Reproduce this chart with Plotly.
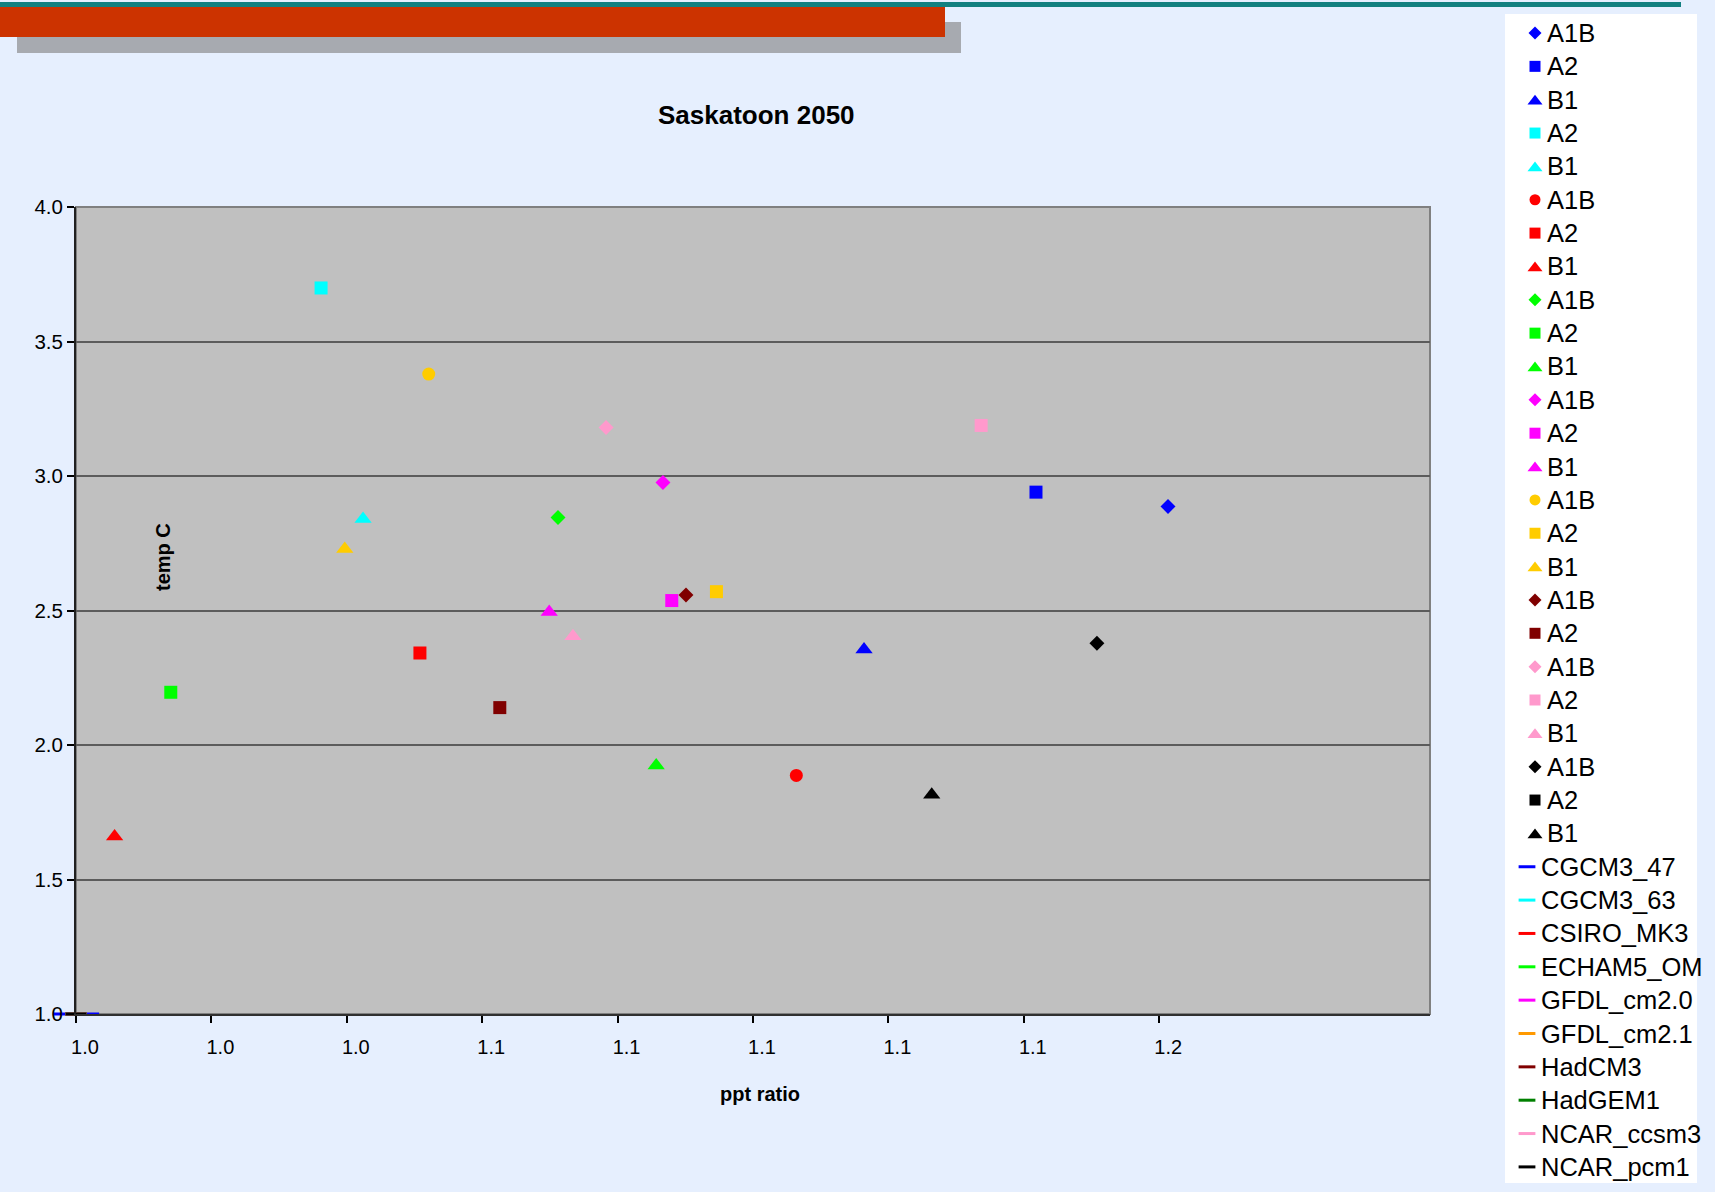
import plotly.graph_objects as go

W, H = 1715, 1192

# ---- data -------------------------------------------------------------
models = ["CGCM3_47", "CGCM3_63", "CSIRO_MK3", "ECHAM5_OM", "GFDL_cm2.0",
          "GFDL_cm2.1", "HadCM3", "HadGEM1", "NCAR_ccsm3", "NCAR_pcm1"]

series_model = ["CGCM3_47", "CGCM3_47", "CGCM3_47",
                "CGCM3_63", "CGCM3_63",
                "CSIRO_MK3", "CSIRO_MK3", "CSIRO_MK3",
                "ECHAM5_OM", "ECHAM5_OM", "ECHAM5_OM",
                "GFDL_cm2.0", "GFDL_cm2.0", "GFDL_cm2.0",
                "GFDL_cm2.1", "GFDL_cm2.1", "GFDL_cm2.1",
                "HadCM3", "HadCM3",
                "NCAR_ccsm3", "NCAR_ccsm3", "NCAR_ccsm3",
                "NCAR_pcm1", "NCAR_pcm1", "NCAR_pcm1"]
series_scenario = ["A1B", "A2", "B1",
                   "A2", "B1",
                   "A1B", "A2", "B1",
                   "A1B", "A2", "B1",
                   "A1B", "A2", "B1",
                   "A1B", "A2", "B1",
                   "A1B", "A2",
                   "A1B", "A2", "B1",
                   "A1B", "A2", "B1"]
ppt_ratio = [1.1613, 1.1418, 1.1164,
             1.0362, 1.0424,
             1.1064, 1.0508, 1.0057,
             1.0712, 1.0140, 1.0857,
             1.0867, 1.0880, 1.0699,
             1.0521, 1.0946, 1.0397,
             1.0901, 1.0626,
             1.0783, 1.1337, 1.0734,
             1.1508, None, 1.1264]
temp_c = [2.887, 2.940, 2.355,
          3.699, 2.840,
          1.887, 2.342, 1.660,
          2.846, 2.196, 1.924,
          2.976, 2.537, 2.494,
          3.379, 2.570, 2.729,
          2.558, 2.139,
          3.180, 3.188, 2.404,
          2.378, None, 1.815]

# model-only series (dash markers sitting on the axis corner)
model_ppt = [1.0] * len(models)
model_temp = [1.0] * len(models)

x_tick_vals = [1.00, 1.02, 1.04, 1.06, 1.08, 1.10, 1.12, 1.14, 1.16]
x_tick_text = ["1.0", "1.0", "1.0", "1.1", "1.1", "1.1", "1.1", "1.1", "1.2"]
y_tick_vals = [1.0, 1.5, 2.0, 2.5, 3.0, 3.5, 4.0]
y_tick_text = ["1.0", "1.5", "2.0", "2.5", "3.0", "3.5", "4.0"]

# ---- styles -----------------------------------------------------------
marker_color = {
    "CGCM3_47": "#0000FF", "CGCM3_63": "#00FFFF", "CSIRO_MK3": "#FF0000",
    "ECHAM5_OM": "#00FF00", "GFDL_cm2.0": "#FF00FF", "GFDL_cm2.1": "#FFCC00",
    "HadCM3": "#800000", "HadGEM1": "#008000", "NCAR_ccsm3": "#FF99CC",
    "NCAR_pcm1": "#000000",
}
line_color = dict(marker_color)
line_color["GFDL_cm2.1"] = "#FF9900"

series_symbol = ["diamond", "square", "triangle-up",
                 "square", "triangle-up",
                 "circle", "square", "triangle-up",
                 "diamond", "square", "triangle-up",
                 "diamond", "square", "triangle-up",
                 "circle", "square", "triangle-up",
                 "diamond", "square",
                 "diamond", "square", "triangle-up",
                 "diamond", "square", "triangle-up"]
plot_size = {"diamond": 11.5, "square": 13, "triangle-up": 15, "circle": 13}
legend_size = {"diamond": 10, "square": 11, "triangle-up": 13, "circle": 11}

FONT = "Liberation Sans, Arial, sans-serif"

# plot area in pixels
PL, PR, PT, PB = 76, 1430, 207, 1014
# legend box in pixels
LL, LR, LT, LB = 1505, 1697, 14, 1183


def fx(px):
    return px / W


def fy(py):
    return 1 - py / H


fig = go.Figure()

# scenario points
for i in range(len(series_model)):
    sym = series_symbol[i]
    fig.add_trace(go.Scatter(
        x=[ppt_ratio[i]], y=[temp_c[i]], mode="markers",
        name=series_scenario[i],
        marker=dict(symbol=sym, size=plot_size[sym], opacity=1,
                    color=marker_color[series_model[i]], line=dict(width=0)),
        showlegend=False, cliponaxis=False, xaxis="x", yaxis="y"))

# model series drawn as dashes
for j, m in enumerate(models):
    fig.add_trace(go.Scatter(
        x=[model_ppt[j]], y=[model_temp[j]], mode="markers", name=m,
        marker=dict(symbol="line-ew", size=33 if j == 0 else 15, opacity=1,
                    line=dict(color=line_color[m], width=3)),
        showlegend=False, cliponaxis=False, xaxis="x", yaxis="y"))

# ---- hand-built legend on its own pixel-scaled axes ------------------
ROW0, ROW_STEP = 33, 33.35
n_ser = len(series_model)
leg_y_ser = [ROW0 + ROW_STEP * i for i in range(n_ser)]
leg_y_mod = [ROW0 + ROW_STEP * (n_ser + j) for j in range(len(models))]
leg_sym_y = [y + (1.5 if s == "triangle-up" else 0)
             for y, s in zip(leg_y_ser, series_symbol)]

fig.add_trace(go.Scatter(
    x=[1535] * n_ser, y=leg_sym_y, mode="markers",
    marker=dict(symbol=series_symbol, opacity=1,
                size=[legend_size[s] for s in series_symbol],
                color=[marker_color[m] for m in series_model],
                line=dict(width=0)),
    showlegend=False, hoverinfo="skip", xaxis="x2", yaxis="y2"))
fig.add_trace(go.Scatter(
    x=[1527] * len(models), y=leg_y_mod, mode="markers",
    marker=dict(symbol="line-ew", size=12, opacity=1,
                line=dict(color=[line_color[m] for m in models], width=3)),
    showlegend=False, hoverinfo="skip", xaxis="x2", yaxis="y2"))

annotations = []
for i in range(n_ser):
    annotations.append(dict(
        x=1545, y=leg_y_ser[i], xref="x2", yref="y2", text=series_scenario[i],
        showarrow=False, xanchor="left", yanchor="middle",
        font=dict(family=FONT, size=25.5, color="#000000")))
for j, m in enumerate(models):
    annotations.append(dict(
        x=1539, y=leg_y_mod[j], xref="x2", yref="y2", text=m,
        showarrow=False, xanchor="left", yanchor="middle",
        font=dict(family=FONT, size=25.5, color="#000000")))

# titles
annotations.append(dict(
    x=fx(756), y=fy(115), xref="paper", yref="paper", text="Saskatoon 2050",
    showarrow=False, xanchor="center", yanchor="middle",
    font=dict(family=FONT, size=26, color="#000000", weight="bold")))
annotations.append(dict(
    x=fx(163), y=fy(557), xref="paper", yref="paper", text="temp C",
    textangle=-90, showarrow=False, xanchor="center", yanchor="middle",
    font=dict(family=FONT, size=20, color="#000000", weight="bold")))
annotations.append(dict(
    x=fx(760), y=fy(1094), xref="paper", yref="paper", text="ppt ratio",
    showarrow=False, xanchor="center", yanchor="middle",
    font=dict(family=FONT, size=20, color="#000000", weight="bold")))

shapes = [
    # header band: stippled grey shadow, orange-red bar, teal rule
    dict(type="rect", xref="paper", yref="paper", x0=fx(17), x1=fx(961),
         y0=fy(53), y1=fy(22), fillcolor="#A7AAB0", line=dict(width=0), layer="below"),
    dict(type="rect", xref="paper", yref="paper", x0=fx(0), x1=fx(945),
         y0=fy(37), y1=fy(7), fillcolor="#CC3300", line=dict(width=0), layer="below"),
    dict(type="rect", xref="paper", yref="paper", x0=fx(0), x1=fx(1681),
         y0=fy(7), y1=fy(2), fillcolor="#128080", line=dict(width=0), layer="below"),
    # plot area
    dict(type="rect", xref="paper", yref="paper", x0=fx(PL), x1=fx(PR),
         y0=fy(PB), y1=fy(PT), fillcolor="#C0C0C0",
         line=dict(color="#808080", width=2), layer="below"),
    # legend box
    dict(type="rect", xref="paper", yref="paper", x0=fx(LL), x1=fx(LR),
         y0=fy(LB), y1=fy(LT), fillcolor="#FFFFFF", line=dict(width=0), layer="below"),
]

fig.update_layout(
    width=W, height=H, autosize=False,
    margin=dict(l=0, r=0, t=0, b=0, pad=0, autoexpand=False),
    paper_bgcolor="#E6EFFE", plot_bgcolor="rgba(0,0,0,0)",
    showlegend=False,
    font=dict(family=FONT, color="#000000"),
    xaxis=dict(domain=[fx(PL), fx(PR)], range=[1.0, 1.2], anchor="y",
               tickmode="array", tickvals=x_tick_vals, ticktext=x_tick_text,
               ticks="outside", ticklen=7, tickwidth=1.5, tickcolor="#000000",
               showline=True, linecolor="#303030", linewidth=2,
               showgrid=False, zeroline=False, automargin=False,
               tickfont=dict(family=FONT, size=20, color="#000000"),
               ticklabelshift=9, ticklabelstandoff=7, fixedrange=True),
    yaxis=dict(domain=[fy(PB), fy(PT)], range=[1.0, 4.0], anchor="x",
               tickmode="array", tickvals=y_tick_vals, ticktext=y_tick_text,
               ticks="outside", ticklen=7, tickwidth=1.5, tickcolor="#000000",
               showline=True, linecolor="#202020", linewidth=2,
               showgrid=True, gridcolor="#5C5C5C", gridwidth=2, zeroline=False,
               automargin=False,
               tickfont=dict(family=FONT, size=20.5, color="#000000"),
               ticklabelstandoff=0, fixedrange=True),
    xaxis2=dict(domain=[fx(LL), fx(LR)], range=[LL, LR], anchor="y2",
                visible=False, fixedrange=True),
    yaxis2=dict(domain=[fy(LB), fy(LT)], range=[LB, LT], anchor="x2",
                visible=False, fixedrange=True),
    annotations=annotations,
    shapes=shapes,
)

fig.write_html(
    "out.html",
    config={"displayModeBar": False},
    post_script="document.body.style.margin='0';document.body.style.overflow='hidden';",
)
